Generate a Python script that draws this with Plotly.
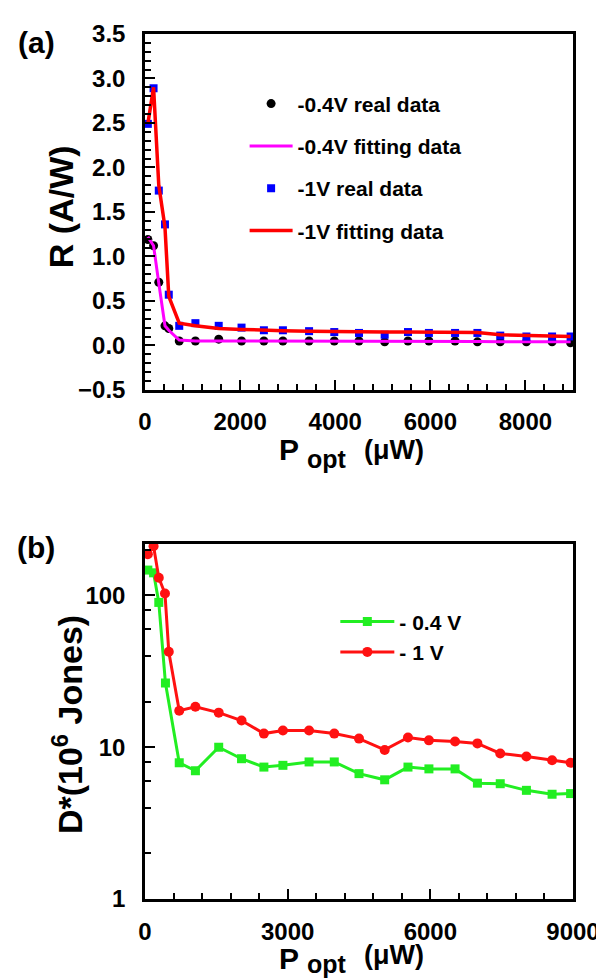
import plotly.graph_objects as go
import math

# ---------------- data ----------------
# Panel (a): responsivity R (A/W) vs P_opt (uW)
p_opt_a = [60, 180, 290, 420, 500, 720, 1060, 1550, 2030, 2500, 2900, 3450, 3980,
           4500, 5040, 5530, 5970, 6520, 6990, 7470, 8020, 8560, 8950]
r_04_real = [1.19, 1.12, 0.71, 0.22, 0.19, 0.05, 0.05, 0.07, 0.05, 0.05, 0.05, 0.05, 0.05,
             0.05, 0.04, 0.05, 0.05, 0.05, 0.04, 0.04, 0.04, 0.04, 0.03]
r_04_fit = [1.22, 1.12, 0.70, 0.22, 0.17, 0.06, 0.05, 0.05, 0.05, 0.05, 0.05, 0.05, 0.05,
            0.05, 0.05, 0.05, 0.05, 0.045, 0.045, 0.04, 0.04, 0.04, 0.04]
r_1_real = [2.49, 2.89, 1.74, 1.36, 0.57, 0.22, 0.25, 0.22, 0.20, 0.17, 0.17, 0.16, 0.15,
            0.14, 0.12, 0.15, 0.14, 0.14, 0.14, 0.11, 0.10, 0.10, 0.10]
r_1_fit = [2.49, 2.90, 1.80, 1.33, 0.55, 0.25, 0.22, 0.19, 0.18, 0.17, 0.165, 0.16, 0.155,
           0.15, 0.15, 0.15, 0.15, 0.15, 0.145, 0.12, 0.11, 0.11, 0.10]

# Panel (b): detectivity D* (10^6 Jones) vs P_opt (uW)
p_opt_b_04 = [60, 180, 290, 430, 720, 1060, 1550, 2030, 2500, 2900, 3450, 3980,
              4500, 5040, 5530, 5970, 6520, 6990, 7470, 8020, 8560, 8950]
d_04 = [147, 141, 90, 26.5, 7.9, 7.0, 10.0, 8.4, 7.4, 7.6, 8.0, 8.0,
        6.7, 6.1, 7.4, 7.2, 7.2, 5.8, 5.75, 5.2, 4.9, 4.95]
p_opt_b_1 = [60, 180, 290, 420, 500, 720, 1060, 1550, 2030, 2500, 2900, 3450, 3980,
             4500, 5040, 5530, 5970, 6520, 6990, 7470, 8020, 8560, 8950]
d_1 = [187, 211, 131, 103, 42.6, 17.4, 18.5, 16.9, 15.0, 12.3, 12.9, 12.9, 12.3,
       11.4, 9.6, 11.6, 11.1, 10.9, 10.6, 9.1, 8.7, 8.2, 7.9]

# ---------------- figure ----------------
W, H = 604, 979
ML, MR, MT, MB = 137, 33, 16, 88
PW = W - ML - MR
PH = H - MT - MB

def px(xp):
    return (xp - ML) / PW

def py(yp):
    return (H - MB - yp) / PH

FONT = "Liberation Sans"
fig = go.Figure()

fig.add_trace(go.Scatter(x=p_opt_a, y=r_04_real, mode="markers", name="-0.4V real data",
                         marker=dict(symbol="circle", size=9, color="black"),
                         xaxis="x", yaxis="y", legend="legend", legendgroup="a1"))
fig.add_trace(go.Scatter(x=p_opt_a, y=r_04_fit, mode="lines", name="-0.4V fitting data",
                         line=dict(color="#ff00ff", width=3),
                         xaxis="x", yaxis="y", legend="legend", legendgroup="a2"))
fig.add_trace(go.Scatter(x=p_opt_a, y=r_1_real, mode="markers", name="-1V real data",
                         marker=dict(symbol="square", size=8, color="#0000ff"),
                         xaxis="x", yaxis="y", legend="legend", legendgroup="a3"))
fig.add_trace(go.Scatter(x=p_opt_a, y=r_1_fit, mode="lines", name="-1V fitting data",
                         line=dict(color="#ff0000", width=3.5),
                         xaxis="x", yaxis="y", legend="legend", legendgroup="a4"))

fig.add_trace(go.Scatter(x=p_opt_b_04, y=d_04, mode="lines+markers", name="- 0.4 V",
                         line=dict(color="#22ee22", width=3),
                         marker=dict(symbol="square", size=9, color="#22ee22"),
                         xaxis="x2", yaxis="y2", legend="legend2", legendgroup="b1"))
fig.add_trace(go.Scatter(x=p_opt_b_1, y=d_1, mode="lines+markers", name="- 1 V",
                         line=dict(color="#ff1111", width=3),
                         marker=dict(symbol="circle", size=10, color="#ff1111"),
                         xaxis="x2", yaxis="y2", legend="legend2", legendgroup="b2"))

axis_common = dict(showline=True, linecolor="black", linewidth=2.5, mirror=True,
                   showgrid=False, zeroline=False, ticks="inside", ticklen=10,
                   tickwidth=2, tickcolor="black",
                   tickfont=dict(family=FONT, size=24, color="black", weight="bold"))

dom_a = [py(376), 1.0]
dom_b = [0.0, py(532)]

fig.update_layout(
    width=W, height=H,
    margin=dict(l=ML, r=MR, t=MT, b=MB, pad=0),
    paper_bgcolor="white", plot_bgcolor="white",
    font=dict(family=FONT, color="black"),
    xaxis=dict(domain=[0, 1], anchor="y", range=[0, 9000], tick0=0, dtick=2000,
               ticklabelstandoff=9,
               minor=dict(dtick=400, ticks="inside", ticklen=6, tickwidth=2, tickcolor="black"),
               **axis_common),
    yaxis=dict(domain=dom_a, anchor="x", range=[-0.5, 3.5], tick0=0, dtick=0.5,
               tickformat=".1f", ticklabelstandoff=12,
               minor=dict(dtick=0.1, ticks="inside", ticklen=6, tickwidth=2, tickcolor="black"),
               **axis_common),
    xaxis2=dict(domain=[0, 1], anchor="y2", range=[0, 9000], tick0=0, dtick=3000,
                ticklabelstandoff=9,
                minor=dict(dtick=600, ticks="inside", ticklen=6, tickwidth=2, tickcolor="black"),
                **axis_common),
    yaxis2=dict(domain=dom_b, anchor="x2", type="log", range=[0, math.log10(218)],
                tickmode="array", tickvals=[1, 10, 100], ticktext=["1", "10", "100"],
                ticklabelstandoff=12,
                minor=dict(tickmode="array", tickvals=[2, 4, 6, 8, 20, 40, 60, 80, 200],
                           ticks="inside", ticklen=6, tickwidth=2, tickcolor="black"),
                **axis_common),
    legend=dict(x=px(238), y=py(66), xanchor="left", yanchor="top", itemwidth=43,
                bgcolor="rgba(0,0,0,0)", traceorder="grouped", tracegroupgap=12,
                font=dict(family=FONT, size=21, color="black", weight="bold")),
    legend2=dict(x=px(330), y=py(590), xanchor="left", yanchor="top", itemwidth=54,
                 bgcolor="rgba(0,0,0,0)", traceorder="grouped", tracegroupgap=0,
                 font=dict(family=FONT, size=21, color="black", weight="bold")),
    showlegend=True,
)

ann = []
def add_text(text, x, y, size, xanchor="center", angle=0, weight="bold"):
    ann.append(dict(text=text, x=px(x), y=py(y), xref="paper", yref="paper",
                    xanchor=xanchor, yanchor="middle", showarrow=False, textangle=angle,
                    borderpad=0,
                    font=dict(family=FONT, size=size, color="black", weight=weight)))

# panel labels
add_text("(a)", 27, 25, 30)
add_text("(b)", 26, 535, 30)
# y titles
add_text("R (A/W)", 52, 191, 34, angle=-90)
add_text("D*(10<sup>6</sup> Jones)", 58, 715, 34, angle=-90)
# x titles
for dy, dyp in ((0, 0), (511, 515)):
    add_text("P", 294, 436 + dyp, 30, xanchor="right")
    add_text("opt", 300, 446 + dy, 25, xanchor="left")
    add_text("(μW)", 358, 437 + dy, 27, xanchor="left")

fig.update_layout(annotations=ann)
fig.write_html("out.html")
